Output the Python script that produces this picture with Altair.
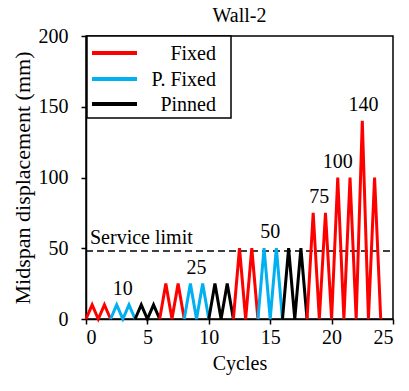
import altair as alt
import pandas as pd

# Peak displacement of each loading cycle (mm) and the support condition tested
cycle_peak = [10, 10, 10, 10, 10, 10,
              25, 25, 25, 25, 25, 25,
              50, 50, 50, 50, 50, 50,
              75, 75, 100, 100, 140, 100]
cycle_support = ["Fixed", "Fixed", "P. Fixed", "P. Fixed", "Pinned", "Pinned",
                 "Fixed", "Fixed", "P. Fixed", "P. Fixed", "Pinned", "Pinned",
                 "Fixed", "Fixed", "P. Fixed", "P. Fixed", "Pinned", "Pinned",
                 "Fixed", "Fixed", "Fixed", "Fixed", "Fixed", "Fixed"]

# Amplitude annotations: where each label sits along the cycle axis
label_cycle = [3, 9, 15, 19, 20.5, 22.6]
label_peak = [10, 25, 50, 75, 100, 140]

service_limit = 48

supports = ["Fixed", "P. Fixed", "Pinned"]
support_colors = ["#ff0000", "#00b0f0", "#000000"]

FONT = "Liberation Serif, Times New Roman, serif"
W, H = 307, 283

# Each cycle rises from zero to its peak and returns; consecutive cycles with
# the same support are joined into one polyline.
rows = []
run = 0
for i, (peak, sup) in enumerate(zip(cycle_peak, cycle_support)):
    if i > 0 and sup != cycle_support[i - 1]:
        run += 1
    pts = [(i, 0), (i + 0.5, peak), (i + 1, 0)]
    if i > 0 and sup == cycle_support[i - 1]:
        pts = pts[1:]
    for cx, d in pts:
        rows.append({"cycle": cx, "disp": d, "support": sup, "run": run})
zigzag = pd.DataFrame(rows)

labels = pd.DataFrame({"cycle": label_cycle, "disp": label_peak,
                       "text": [str(v) for v in label_peak]})

x_scale = alt.Scale(domain=[0, 25], nice=False)
y_scale = alt.Scale(domain=[0, 200], nice=False)

x_axis = alt.Axis(values=[0, 5, 10, 15, 20, 25], title="Cycles", grid=False,
                  tickSize=5, labelPadding=3, titlePadding=6)
y_axis = alt.Axis(values=[0, 50, 100, 150, 200], title="Midspan displacement (mm)",
                  grid=False, tickSize=5, labelPadding=13, titlePadding=4,
                  titleFontSize=22)

lines = alt.Chart(zigzag).mark_line(strokeWidth=3, strokeJoin="miter").encode(
    x=alt.X("cycle:Q", scale=x_scale, axis=x_axis),
    y=alt.Y("disp:Q", scale=y_scale, axis=y_axis),
    color=alt.Color("support:N", scale=alt.Scale(domain=supports, range=support_colors),
                    legend=None),
    detail="run:N",
    order="cycle:Q",
)

limit_df = pd.DataFrame({"x0": [0], "x1": [25], "y": [service_limit],
                         "text": ["Service limit"]})
limit_line = alt.Chart(limit_df).mark_rule(
    color="black", strokeWidth=1.5, strokeDash=[7, 4]
).encode(x="x0:Q", x2="x1:Q", y="y:Q")
limit_text = alt.Chart(limit_df).mark_text(
    font=FONT, fontSize=20, align="left", baseline="bottom", dx=4, dy=-3, color="black"
).encode(x="x0:Q", y="y:Q", text="text:N")

peak_text = alt.Chart(labels).mark_text(
    font=FONT, fontSize=20, align="center", baseline="bottom", dy=-6, color="black"
).encode(x="cycle:Q", y="disp:Q", text="text:N")

# Legend box in the upper-left corner of the plot
legend_layers = [
    alt.Chart(limit_df).mark_rect(fill="white", stroke="black", strokeWidth=1.5).encode(
        x=alt.value(1), x2=alt.value(145), y=alt.value(0), y2=alt.value(82)
    )
]
row_y = [17, 43, 68]
for name, col, ry in zip(supports, support_colors, row_y):
    legend_layers.append(
        alt.Chart(limit_df).mark_rule(color=col, strokeWidth=4).encode(
            x=alt.value(6), x2=alt.value(51), y=alt.value(ry)
        )
    )
    legend_layers.append(
        alt.Chart(limit_df).mark_text(
            text=name, font=FONT, fontSize=20, align="right", baseline="middle",
            color="black"
        ).encode(x=alt.value(130), y=alt.value(ry + 1))
    )

chart = alt.layer(
    limit_line, limit_text, lines, peak_text, *legend_layers
).properties(
    width=W, height=H,
    title=alt.TitleParams("Wall-2", font=FONT, fontSize=20, fontWeight="normal",
                          color="black", offset=0),
    autosize=alt.AutoSizeParams(type="none"),
    padding={"left": 86, "top": 36, "right": 16, "bottom": 72},
).configure_view(
    stroke="black", strokeWidth=1.5
).configure_axis(
    labelFont=FONT, labelFontSize=20, labelColor="black",
    titleFont=FONT, titleFontSize=20, titleColor="black", titleFontWeight="normal",
    domainColor="black", domainWidth=1.5, tickColor="black", tickWidth=1.5,
)

chart.save("out.html", embed_options={"renderer": "svg", "actions": False})
